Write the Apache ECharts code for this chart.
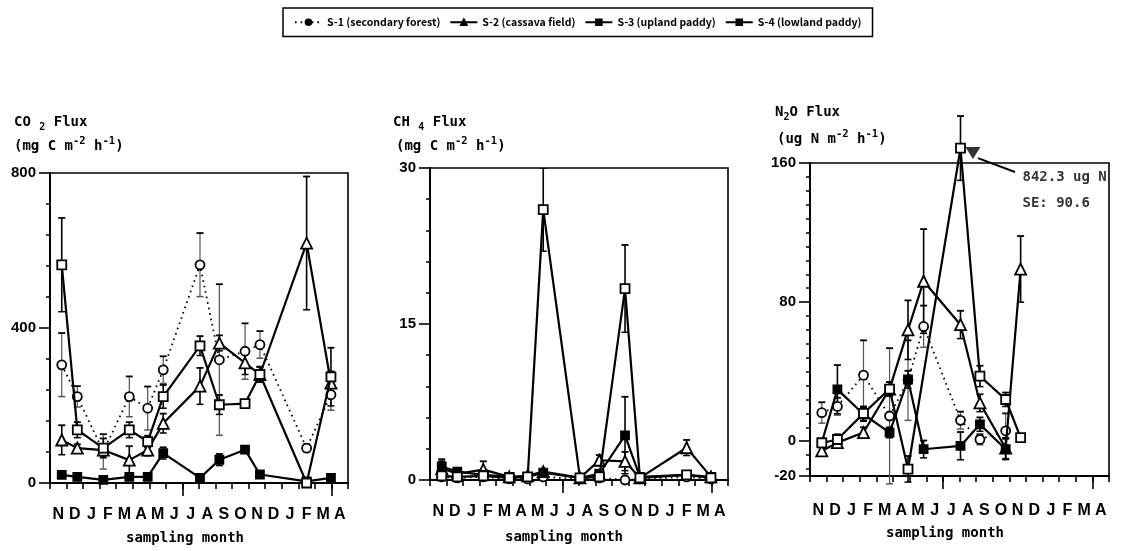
<!DOCTYPE html>
<html><head><meta charset="utf-8">
<script src="https://cdn.jsdelivr.net/npm/echarts@6/dist/echarts.min.js"></script>
<style>html,body{margin:0;padding:0;background:#fff}#c{width:1130px;height:551px}</style>
</head><body><div id="c"></div>
<script>
// ---------- data ----------
const months = ['N','D','J','F','M','A','M','J','J','A','S','O','N','D','J','F','M','A'];
const samplePos = [0.71, 1.65, 3.22, 4.79, 5.90, 6.84, 9.06, 10.23, 11.78, 12.68, 15.50, 16.97];
const seriesNames = ['S-1 (secondary forest)', 'S-2 (cassava field)', 'S-3 (upland paddy)', 'S-4 (lowland paddy)'];

// CO2 flux (mg C m-2 h-1)
const co2S1 = [305, 223, 81, 223, 193, 292, 563, 318, 340, 357, 90, 228];
const co2S1Err = [82, 27, 45, 52, 56, 35, 82, 195, 72, 35, 10, 40];
const co2S2 = [111, 90, 85, 59, 85, 154, 250, 361, 310, 280, 619, 258];
const co2S2Err = [38, 10, 15, 36, 15, 25, 47, 20, 30, 20, 172, 30];
const co2S3 = [21, 16, 8, 16, 16, 77, 13, 60, 86, 22, 4, 13];
const co2S3Err = [5, 4, 3, 5, 4, 15, 5, 15, 5, 5, 3, 3];
const co2S4 = [563, 137, 90, 137, 107, 223, 354, 202, 205, 280, 0, 274];
const co2S4Err = [121, 20, 25, 20, 15, 30, 25, 25, 10, 20, 5, 75];

// CH4 flux (mg C m-2 h-1)
const ch4S1 = [0.3, 0.2, 0.3, 0.1, 0.1, 0.3, 0.1, 0.2, 0.0, 0.1, 0.3, 0.1];
const ch4S1Err = [0.2, 0.1, 0.2, 0.1, 0.1, 0.1, 0.1, 0.1, 0.3, 0.1, 0.1, 0.1];
const ch4S2 = [1.1, 0.6, 1.0, 0.3, 0.4, 0.8, 0.2, 1.9, 1.8, 0.2, 3.1, 0.3];
const ch4S2Err = [0.9, 0.3, 0.8, 0.1, 0.2, 0.2, 0.1, 0.5, 0.9, 0.1, 0.75, 0.2];
const ch4S3 = [1.3, 0.8, 0.5, 0.3, 0.3, 0.7, 0.2, 0.6, 4.3, 0.3, 0.5, 0.3];
const ch4S3Err = [0.5, 0.3, 0.2, 0.1, 0.1, 0.2, 0.1, 0.3, 3.7, 0.1, 0.2, 0.1];
const ch4S4 = [0.4, 0.3, 0.4, 0.2, 0.3, 26.0, 0.2, 0.3, 18.4, 0.2, 0.5, 0.2];
const ch4S4Err = [0.3, 0.2, 0.2, 0.1, 0.1, 4.0, 0.1, 0.2, 4.2, 0.1, 0.2, 0.1];

// N2O flux (ug N m-2 h-1), 10 sampling dates
const n2oS1 = [16.4, 20, 38, 14.5, 35, 66, 12, 1, 6, null];
const n2oS1Err = [6, 5, 20, 39, 23, 12, 5, 3, 10, null];
const n2oS2 = [-5.6, -0.8, 5, 30, 64, 92, 67, 22, -4, 99];
const n2oS2Err = [2, 3, 3, 4, 17, 30, 8, 5, 6, 19];
const n2oS3 = [-0.7, 29.8, 15.5, 5, 35.5, -4.6, -2.7, 9.7, -4.6, null];
const n2oS3Err = [2, 14, 4, 3, 5, 5, 8, 4, 6, null];
const n2oS4 = [-1, 1, 16, 30, -16, null, 168.5, 37.4, 24, 2.1];
const n2oS4Err = [2, 3, 4, 4, 7.5, null, 18.5, 6, 4, 2];

// off-scale annotation (panel 3)
const annotMarker = [9.81, 165.7];
const annotLeader = [[10.11, 162.8], [12.34, 154.8]];
const annotTexts = ['842.3 ug N', 'SE: 90.6'];
const annotTextPos = [[12.76, 152], [12.76, 137]];

// axis ticks
const co2Labels = [0, 400, 800];
const co2Minor = [80, 160, 240, 320, 480, 560, 640, 720];
const ch4Labels = [0, 15, 30];
const ch4Minor = [3, 6, 9, 12, 18, 21, 24, 27];
const n2oLabels = [-20, 0, 80, 160];
const n2oMinor = [-16, -8, 8, 16, 24, 32, 40, 48, 56, 64, 72, 88, 96, 104, 112, 120, 128, 136, 144, 152];

// ---------- helpers ----------
const monthTicks = months.map((m, i) => i).concat([months.length]);
const monthLabelPos = months.map((m, i) => i + 0.5);
const longTicks = [8, 17];
const MONO = '"DejaVu Sans Mono", monospace';
const SANS = '"Liberation Sans", Arial, sans-serif';
const CJK = '"Noto Sans CJK JP", "Noto Sans", sans-serif';

const styles = [
  { symbol: 'circle', size: 9, fill: '#fff', type: [1.6, 4], width: 1.8 },
  { symbol: 'triangle', size: 11, fill: '#fff', type: 'solid', width: 2.2 },
  { symbol: 'rect', size: 8, fill: '#000', type: 'solid', width: 2.2 },
  { symbol: 'rect', size: 9, fill: '#fff', type: 'solid', width: 2.2 }
];

function xAxes(g, margin) {
  return [
    { type: 'value', gridIndex: g, min: 0, max: months.length, position: 'bottom',
      axisLine: { show: true, onZero: false, lineStyle: { color: '#000', width: 2 } },
      axisTick: { show: true, customValues: monthTicks, length: 6, lineStyle: { color: '#000', width: 1.6 } },
      axisLabel: { customValues: monthLabelPos, formatter: v => months[Math.floor(v)] || '',
        color: '#000', fontFamily: SANS, fontWeight: 'bold', fontSize: 16, margin: margin },
      splitLine: { show: false } },
    { type: 'value', gridIndex: g, min: 0, max: months.length, position: 'bottom',
      axisLine: { show: false, onZero: false },
      axisTick: { show: true, customValues: longTicks, length: 13, lineStyle: { color: '#000', width: 1.6 } },
      axisLabel: { show: false }, splitLine: { show: false } }
  ];
}
function yAxes(g, min, max, labels, minor) {
  return [
    { type: 'value', gridIndex: g, min: min, max: max, position: 'left',
      axisLine: { show: true, onZero: false, lineStyle: { color: '#000', width: 2 } },
      axisTick: { show: true, customValues: labels, length: 11, lineStyle: { color: '#000', width: 1.6 } },
      axisLabel: { customValues: labels, color: '#000', fontFamily: SANS, fontWeight: 'bold', fontSize: 15, margin: 14 },
      splitLine: { show: false } },
    { type: 'value', gridIndex: g, min: min, max: max, position: 'left', offset: 0,
      axisLine: { show: false, onZero: false },
      axisTick: { show: true, customValues: minor, length: 4, lineStyle: { color: '#000', width: 1.5 } },
      axisLabel: { show: false }, splitLine: { show: false } }
  ];
}
function lineSeries(g, k, xs, ys, clip) {
  const s = styles[k];
  const data = [];
  xs.forEach((x, i) => { if (ys[i] != null) data.push([x, ys[i]]); });
  return { type: 'line', name: seriesNames[k], xAxisIndex: 2 * g, yAxisIndex: 2 * g, data: data,
    symbol: s.symbol, symbolSize: s.size, showSymbol: true, clip: clip, z: 4 + k,
    itemStyle: { color: s.fill, borderColor: '#000', borderWidth: 1.8 },
    lineStyle: { color: '#000', width: s.width, type: s.type },
    emphasis: { disabled: true } };
}
function errSeries(g, k, xs, ys, es, clip) {
  const data = [];
  xs.forEach((x, i) => { if (ys[i] != null && es[i] != null && es[i] > 0) data.push([x, ys[i], es[i]]); });
  const thin = k === 0;
  return { type: 'custom', xAxisIndex: 2 * g, yAxisIndex: 2 * g, data: data, clip: clip, z: 2, silent: true,
    encode: { x: 0, y: 1 },
    renderItem: function (params, api) {
      const x = api.value(0), y = api.value(1), e = api.value(2);
      const top = api.coord([x, y + e]), bot = api.coord([x, y - e]);
      const w = 3.5;
      const col = thin ? '#555' : '#000';
      return { type: 'group', children: [
        { type: 'line', shape: { x1: top[0], y1: top[1], x2: bot[0], y2: bot[1] }, style: { stroke: col, lineWidth: thin ? 1.2 : 1.6 } },
        { type: 'line', shape: { x1: top[0] - w, y1: top[1], x2: top[0] + w, y2: top[1] }, style: { stroke: '#000', lineWidth: 1.8 } },
        { type: 'line', shape: { x1: bot[0] - w, y1: bot[1], x2: bot[0] + w, y2: bot[1] }, style: { stroke: col, lineWidth: 1.5 } }
      ] };
    } };
}
function panel(g, sets, clip) {
  const out = [];
  sets.forEach((p, k) => {
    const xs = samplePos.slice(0, p[0].length);
    out.push(errSeries(g, k, xs, p[0], p[1], clip));
    out.push(lineSeries(g, k, xs, p[0], clip));
  });
  return out;
}

const series = [].concat(
  panel(0, [[co2S1, co2S1Err], [co2S2, co2S2Err], [co2S3, co2S3Err], [co2S4, co2S4Err]], true),
  panel(1, [[ch4S1, ch4S1Err], [ch4S2, ch4S2Err], [ch4S3, ch4S3Err], [ch4S4, ch4S4Err]], true),
  panel(2, [[n2oS1, n2oS1Err], [n2oS2, n2oS2Err], [n2oS3, n2oS3Err], [n2oS4, n2oS4Err]], false)
);
series.push({ type: 'line', xAxisIndex: 4, yAxisIndex: 4, data: annotLeader, symbol: 'none', clip: false, z: 8,
  lineStyle: { color: '#000', width: 2 }, silent: true });
series.push({ type: 'scatter', xAxisIndex: 4, yAxisIndex: 4, data: [annotMarker], symbol: 'triangle', symbolRotate: 180,
  symbolSize: [15, 12], clip: false, z: 9, itemStyle: { color: '#000' }, silent: true });
series.push({ type: 'scatter', xAxisIndex: 4, yAxisIndex: 4, clip: false, z: 9, silent: true, symbolSize: 1,
  itemStyle: { color: 'rgba(0,0,0,0)' },
  data: annotTextPos.map((p, i) => ({ value: p, label: { show: true, formatter: annotTexts[i] } })),
  label: { position: 'right', distance: 0, color: '#000', fontFamily: MONO, fontWeight: 'bold', fontSize: 14 } });

function titleText(x, y, parts) {
  return { type: 'text', x: x, y: y, silent: true,
    style: { text: parts, fill: '#000', verticalAlign: 'middle',
      rich: {
        a: { fontFamily: MONO, fontWeight: 'bold', fontSize: 14, lineHeight: 20, verticalAlign: 'middle' },
        sup: { fontFamily: MONO, fontWeight: 'bold', fontSize: 10.5, lineHeight: 11, verticalAlign: 'top' },
        sub: { fontFamily: MONO, fontWeight: 'bold', fontSize: 10, lineHeight: 11, verticalAlign: 'bottom' }
      } } };
}
function xName(cx, y) {
  return { type: 'text', x: cx, y: y, silent: true,
    style: { text: 'sampling month', fill: '#000', align: 'center', verticalAlign: 'middle',
      font: 'bold 14px "DejaVu Sans Mono", monospace' } };
}

const option = {
  animation: false,
  backgroundColor: '#fff',
  legend: {
    data: seriesNames, left: 283, top: 8, orient: 'horizontal', selectedMode: false,
    borderColor: '#000', borderWidth: 1.5, padding: [9, 11, 9, 11], itemGap: 9,
    itemWidth: 27, itemHeight: 7,
    itemStyle: { color: '#000', borderColor: '#000' },
    textStyle: { color: '#000', fontFamily: CJK, fontWeight: 'bold', fontSize: 10.5 }
  },
  grid: [
    { left: 50, top: 173, width: 298, height: 310, show: true, borderColor: '#000', borderWidth: 1.6, backgroundColor: 'transparent' },
    { left: 430, top: 168, width: 298, height: 312, show: true, borderColor: '#000', borderWidth: 1.6, backgroundColor: 'transparent' },
    { left: 810, top: 163, width: 299, height: 313, show: true, borderColor: '#000', borderWidth: 1.6, backgroundColor: 'transparent' }
  ],
  xAxis: [].concat(xAxes(0, 24), xAxes(1, 24), xAxes(2, 27)),
  yAxis: [].concat(yAxes(0, 0, 800, co2Labels, co2Minor), yAxes(1, 0, 30, ch4Labels, ch4Minor), yAxes(2, -20, 160, n2oLabels, n2oMinor)),
  series: series,
  graphic: [
    titleText(14, 122, '{a|CO }{sub|2}{a| Flux}'),
    titleText(14, 146, '{a|(mg C m}{sup|-2}{a| h}{sup|-1}{a|)}'),
    titleText(393, 122, '{a|CH }{sub|4}{a| Flux}'),
    titleText(396, 146, '{a|(mg C m}{sup|-2}{a| h}{sup|-1}{a|)}'),
    titleText(775, 112, '{a|N}{sub|2}{a|O Flux}'),
    titleText(777, 139, '{a|(ug N m}{sup|-2}{a| h}{sup|-1}{a|)}'),
    xName(185, 538), xName(564, 537), xName(945, 533)
  ]
};
const chart = echarts.init(document.getElementById('c'), null, { renderer: 'canvas' });
chart.setOption(option);
</script>
</body></html>
